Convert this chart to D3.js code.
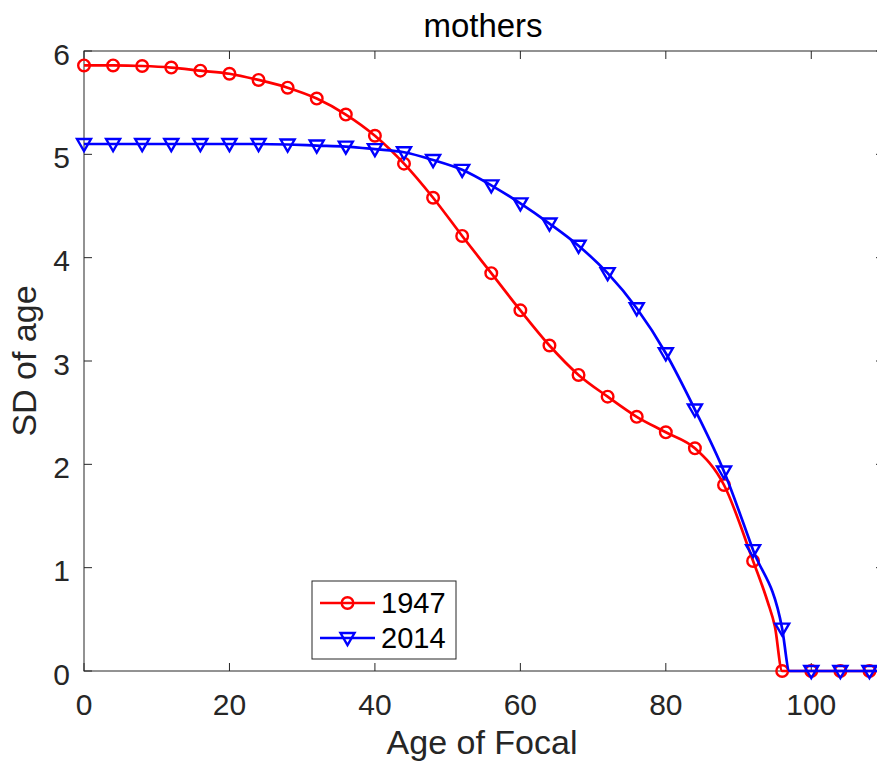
<!DOCTYPE html>
<html>
<head>
<meta charset="utf-8">
<script src="https://cdn.jsdelivr.net/npm/d3@7"></script>
<style>
  html, body { margin: 0; padding: 0; background: #fff; }
  svg { display: block; font-family: "Liberation Sans", Arial, Helvetica, sans-serif; }
</style>
</head>
<body>
<svg id="chart" width="877" height="769"></svg>
<script>
// ---- data ----
const markerAges = [0,4,8,12,16,20,24,28,32,36,40,44,48,52,56,60,64,68,72,76,80,84,88,92,96,100,104,108];
const sd1947 = [5.86,5.86,5.855,5.84,5.81,5.78,5.72,5.645,5.54,5.385,5.18,4.91,4.58,4.21,3.85,3.49,3.15,2.865,2.655,2.46,2.31,2.155,1.80,1.065,0,0,0,0];
const sd2014 = [5.10,5.10,5.10,5.10,5.10,5.10,5.10,5.095,5.085,5.075,5.05,5.02,4.945,4.85,4.70,4.525,4.33,4.115,3.85,3.51,3.075,2.53,1.93,1.17,0.41,0,0,0];
// extra line points (between markers)
const extraAges1947 = [94,95,110];
const extraSd1947 = [0.67,0.43,0];
const extraAges2014 = [97,110];
const extraSd2014 = [0,0];
const seriesNames = ["1947","2014"];
const seriesColors = ["#ff0000","#0000ff"];
const xTicks = [0,20,40,60,80,100];
const yTicks = [0,1,2,3,4,5,6];
const titleText = "mothers";
const xLabel = "Age of Focal";
const yLabel = "SD of age";

// ---- layout ----
const svg = d3.select("#chart");
const L = 84, R = 884, T = 51, B = 671;
const x = d3.scaleLinear().domain([0,110]).range([L,R]);
const y = d3.scaleLinear().domain([0,6]).range([B,T]);
const axisColor = "#262626";
const tickLen = 8;

// axes box
const g = svg.append("g");
g.append("rect").attr("x",L).attr("y",T).attr("width",R-L).attr("height",B-T)
  .attr("fill","none").attr("stroke",axisColor).attr("stroke-width",1);

// ticks
xTicks.forEach(t => {
  g.append("line").attr("x1",x(t)).attr("x2",x(t)).attr("y1",B).attr("y2",B-tickLen).attr("stroke",axisColor);
  g.append("line").attr("x1",x(t)).attr("x2",x(t)).attr("y1",T).attr("y2",T+tickLen).attr("stroke",axisColor);
  g.append("text").attr("x",x(t)).attr("y",715).attr("text-anchor","middle")
    .attr("font-size",30).attr("fill",axisColor).text(t);
});
yTicks.forEach(t => {
  g.append("line").attr("x1",L).attr("x2",L+tickLen).attr("y1",y(t)).attr("y2",y(t)).attr("stroke",axisColor);
  g.append("line").attr("x1",R).attr("x2",R-tickLen).attr("y1",y(t)).attr("y2",y(t)).attr("stroke",axisColor);
  g.append("text").attr("x",70).attr("y",y(t)+13.5).attr("text-anchor","end")
    .attr("font-size",30).attr("fill",axisColor).text(t);
});

// labels
svg.append("text").attr("x",483).attr("y",37).attr("text-anchor","middle")
  .attr("font-size",33).attr("fill","#000").text(titleText);
svg.append("text").attr("x",482).attr("y",754).attr("text-anchor","middle")
  .attr("font-size",34).attr("fill",axisColor).text(xLabel);
svg.append("text").attr("transform","translate(36,361) rotate(-90)").attr("text-anchor","middle")
  .attr("font-size",34).attr("fill",axisColor).text(yLabel);

// ---- series ----
function linePoints(vals, exA, exV) {
  const pts = markerAges.map((a,i) => [a, vals[i]]);
  exA.forEach((a,i) => pts.push([a, exV[i]]));
  pts.sort((p,q) => p[0]-q[0]);
  return pts;
}
const lineGen = d3.line().x(d => x(d[0])).y(d => y(d[1])).curve(d3.curveMonotoneX);
const series = [
  {pts: linePoints(sd1947, extraAges1947, extraSd1947), vals: sd1947, color: seriesColors[0], marker: "o"},
  {pts: linePoints(sd2014, extraAges2014, extraSd2014), vals: sd2014, color: seriesColors[1], marker: "v"}
];
const triPath = "M-7,-5L7,-5L0,7Z";
function drawMarker(sel, type, cx, cy, color) {
  if (type === "o") {
    sel.append("circle").attr("cx",cx).attr("cy",cy).attr("r",5.8)
      .attr("fill","none").attr("stroke",color).attr("stroke-width",2.4);
  } else {
    sel.append("path").attr("d",triPath).attr("transform",`translate(${cx},${cy})`)
      .attr("fill","none").attr("stroke",color).attr("stroke-width",2.4).attr("stroke-linejoin","miter");
  }
}
series.forEach(s => {
  const sg = svg.append("g");
  sg.append("path").datum(s.pts).attr("d",lineGen).attr("fill","none")
    .attr("stroke",s.color).attr("stroke-width",2.7);
  markerAges.forEach((a,i) => drawMarker(sg, s.marker, x(a), y(s.vals[i]), s.color));
});

// ---- legend ----
const lg = svg.append("g");
lg.append("rect").attr("x",312).attr("y",581).attr("width",144).attr("height",78)
  .attr("fill","#fff").attr("stroke",axisColor).attr("stroke-width",1);
seriesNames.forEach((n,i) => {
  const yy = i === 0 ? 603 : 638;
  lg.append("line").attr("x1",320).attr("x2",375).attr("y1",yy).attr("y2",yy)
    .attr("stroke",series[i].color).attr("stroke-width",2.7);
  drawMarker(lg, series[i].marker, 347.5, yy, series[i].color);
  lg.append("text").attr("x",381).attr("y",yy+10).attr("font-size",29).attr("fill","#000").text(n);
});
</script>
</body>
</html>
